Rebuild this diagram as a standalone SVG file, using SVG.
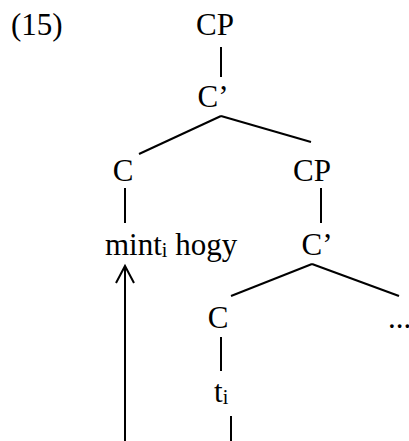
<svg xmlns="http://www.w3.org/2000/svg" width="409" height="441" viewBox="0 0 409 441">
<style>
text{font-family:"Liberation Serif","Times New Roman",serif;font-size:31px;fill:#000}
.s{font-size:20px}
line,polyline{stroke:#000;stroke-width:2;fill:none}
</style>
<rect width="409" height="441" fill="#fff"/>
<g id="label15"><text x="11" y="35">(15)</text></g>
<g id="n-cp1"><text x="215" y="35" text-anchor="middle">CP</text></g>
<g id="n-cbar1"><text x="213" y="107" text-anchor="middle">C’</text></g>
<g id="n-c1"><text x="123" y="181" text-anchor="middle">C</text></g>
<g id="n-cp2"><text x="312" y="181" text-anchor="middle">CP</text></g>
<g id="n-mint"><text x="105" y="255">mint<tspan class="s" dy="2">i</tspan><tspan dy="-2"> hogy</tspan></text></g>
<g id="n-cbar2"><text x="317" y="255" text-anchor="middle">C’</text></g>
<g id="n-c2"><text x="218" y="328" text-anchor="middle">C</text></g>
<g id="n-dots"><text x="388" y="328">...</text></g>
<g id="n-t"><text x="214" y="402">t<tspan class="s" dy="2">i</tspan></text></g>
<g id="connectors">
<line x1="221" y1="47" x2="221" y2="77"/>
<line x1="221" y1="116" x2="139" y2="154"/>
<line x1="221" y1="116" x2="311" y2="142"/>
<line x1="125" y1="188" x2="125" y2="223"/>
<line x1="321" y1="188" x2="321" y2="223"/>
<line x1="312" y1="264" x2="231" y2="296"/>
<line x1="312" y1="264" x2="399" y2="296"/>
<line x1="221" y1="337" x2="221" y2="371"/>
<line x1="231" y1="416" x2="231" y2="441"/>
<line x1="125" y1="266" x2="125" y2="441"/>
<polyline points="116,283 125,266 134,283"/>
</g>
</svg>
